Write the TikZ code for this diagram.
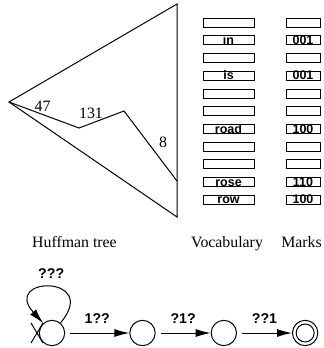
\documentclass[tikz,border=0pt]{standalone}
\usepackage{fontspec}
\setmainfont{Liberation Serif}
\setsansfont{Liberation Sans}
\usetikzlibrary{arrows.meta, positioning}

\begin{document}
\begin{tikzpicture}[
	x=0.6pt, y=-0.6pt,
	line width=0.6pt,
	arrow/.style = {-{Latex[length=9pt, width=4.8pt]}},
	state/.style = {draw, circle, minimum size=15.2pt, inner sep=0pt},
	slot/.style = {draw, rectangle, minimum height=5.4pt, text height=5.1pt, text depth=0.3pt, inner sep=0pt, font=\fontsize{7.5}{7.5}\sffamily\bfseries},
	vocabbox/.style = {slot, minimum width=30.6pt},
	markbox/.style = {slot, minimum width=20.4pt},
	weight/.style = {anchor=base, inner sep=0pt, font=\fontsize{9.5}{11}\selectfont},
	caption/.style = {anchor=base, inner sep=0pt, font=\fontsize{9.5}{11}\selectfont},
	translabel/.style = {above=5.4pt, inner sep=0pt, font=\fontsize{8.5}{8.5}\sffamily\bfseries},
	node distance = 33pt
]

\useasboundingbox (0,0) rectangle (323,348);

% Huffman tree
\coordinate (apex) at (9,102);
\coordinate (top) at (177,4);
\coordinate (bottom) at (177,217);
\coordinate (leaf) at (177,181);
\draw (apex) -- (top) -- (bottom) -- cycle;
\draw (apex) -- (79,128) -- (124,111) -- (leaf);
\node[weight] (w47) at (42.5,112) {47};
\node[weight] (w131) at (91,119) {131};
\node[weight] (w8) at (163,147) {8};

% vocabulary and marks
\foreach \word [count=\i from 0] in {{},in,{},is,{},{},road,{},{},rose,row}
	\node[vocabbox] (word \i) at (228.5, 22.8+17.7*\i) {\word};
\foreach \bits [count=\i from 0] in {{},001,{},001,{},{},100,{},{},110,100}
	\node[markbox] (mark \i) at (303, 22.8+17.7*\i) {\bits};

\node[caption] (tree caption) at (74.5,247) {Huffman tree};
\node[caption] (vocab caption) at (227,247) {Vocabulary};
\node[caption] (mark caption) at (301.5,247) {Marks};

% automaton
\node[state] (s1) at (52,333) {};
\node[state, right=38.5pt of s1] (s2) {};
\node[state, right=of s2] (s3) {};
\node[state, right=of s3] (s4) {};
\node[state, minimum size=10.8pt] (s4 inner) at (s4) {};

\draw (31,323) -- (43,343) (31,343) -- (43,323);

\draw[arrow] (s1) to[out=50, in=132, distance=38pt] node[translabel, above=4.8pt] {???} (s1);
\draw[arrow, shorten <=3pt] (s1) -- node[translabel] {1??} (s2);
\draw[arrow, shorten <=3pt] (s2) -- node[translabel] {?1?} (s3);
\draw[arrow, shorten <=3pt] (s3) -- node[translabel] {??1} (s4);

\end{tikzpicture}
\end{document}
